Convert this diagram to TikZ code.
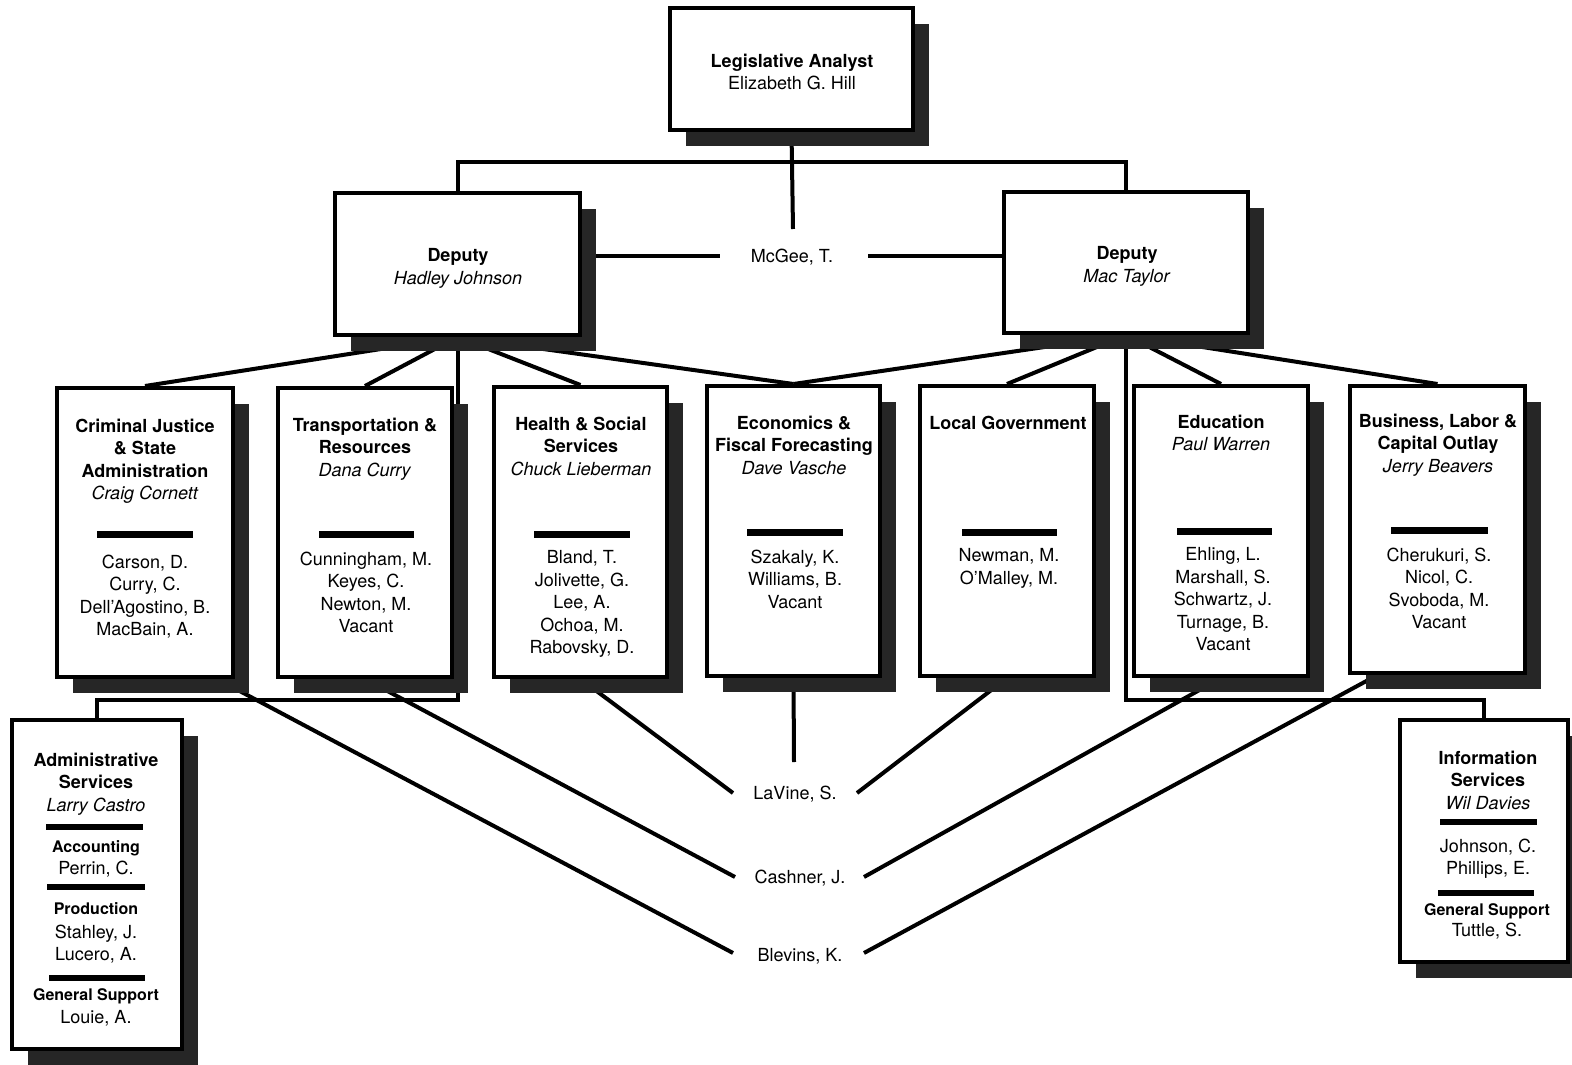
\documentclass[tikz,border=0pt]{standalone}
\usepackage{fontspec}
\setmainfont{TeX Gyre Heros}
\usetikzlibrary{shadows,backgrounds,calc}
\begin{document}
\begin{tikzpicture}[x=1pt,y=-1pt,
  box/.style={draw, line width=4pt, fill=white, inner sep=0pt,
    drop shadow={shadow xshift=16pt, shadow yshift=-16pt, fill=black!85, opacity=1}},
  txt/.style={inner sep=0pt, align=center, font=\fontsize{18}{22.5}\selectfont},
  sub/.style={inner sep=0pt, font=\fontsize{16}{20}\selectfont\bfseries},
  conn/.style={line width=4pt},
  bar/.style={fill=black}]
\useasboundingbox (0,0) rectangle (1572,1065);

% ---- boxes ----
\node[box, minimum width=243pt, minimum height=122pt] (top) at (791.5,69) {};
\node[box, minimum width=245pt, minimum height=142pt] (dep1) at (457.5,264) {};
\node[box, minimum width=244pt, minimum height=141pt] (dep2) at (1126,262.5) {};
\node[box, minimum width=176pt, minimum height=289pt] (cj) at (145,532.5) {};
\node[box, minimum width=174pt, minimum height=289pt] (trans) at (365,532.5) {};
\node[box, minimum width=173pt, minimum height=290pt] (health) at (580.5,532) {};
\node[box, minimum width=173pt, minimum height=290pt] (econ) at (793.5,531) {};
\node[box, minimum width=174pt, minimum height=290pt] (lg) at (1007,531) {};
\node[box, minimum width=174pt, minimum height=290pt] (edu) at (1221,531) {};
\node[box, minimum width=175pt, minimum height=287pt] (bus) at (1437.5,529.5) {};
\node[box, minimum width=170pt, minimum height=329pt] (admin) at (97,884.5) {};
\node[box, minimum width=168pt, minimum height=242pt] (info) at (1484,841) {};

% ---- top texts ----
\node[txt, anchor=north] (topt) at (792,53.5) {\textbf{Legislative Analyst}\\Elizabeth G. Hill};
\node[txt, anchor=north] (dep1t) at (458,248.5) {\textbf{Deputy}\\\textit{Hadley Johnson}};
\node[txt, anchor=north] (dep2t) at (1127,246.5) {\textbf{Deputy}\\\textit{Mac Taylor}};
\node[txt, anchor=base] (mcgee) at (792,262.5) {McGee, T.};

% ---- department titles ----
\node[txt, anchor=north] (cjt) at (145,418.5) {\textbf{Criminal Justice}\\\textbf{\& State}\\\textbf{Administration}\\\textit{Craig Cornett}};
\node[txt, anchor=north] (transt) at (365,417.5) {\textbf{Transportation \&}\\\textbf{Resources}\\\textit{Dana Curry}};
\node[txt, anchor=north] (healtht) at (581,416.5) {\textbf{Health \& Social}\\\textbf{Services}\\\textit{Chuck Lieberman}};
\node[txt, anchor=north] (econt) at (794,415.5) {\textbf{Economics \&}\\\textbf{Fiscal Forecasting}\\\textit{Dave Vasche}};
\node[txt, anchor=north] (lgt) at (1008,415.5) {\textbf{Local Government}};
\node[txt, anchor=north] (edut) at (1221,414.5) {\textbf{Education}\\\textit{Paul Warren}};
\node[txt, anchor=north] (bust) at (1438,413.5) {\textbf{Business, Labor \&}\\\textbf{Capital Outlay}\\\textit{Jerry Beavers}};

% ---- rules ----
\fill[bar] (97,530.5) rectangle (193,537.5);
\fill[bar] (319,530.5) rectangle (414,537.5);
\fill[bar] (534,530.5) rectangle (630,537.5);
\fill[bar] (747,528.5) rectangle (843,535.5);
\fill[bar] (962,528.5) rectangle (1057,535.5);
\fill[bar] (1177,527.5) rectangle (1272,534.5);
\fill[bar] (1391,526.5) rectangle (1488,533.5);

% ---- department staff ----
\node[txt, anchor=north] (cjn) at (145,554.5) {Carson, D.\\Curry, C.\\Dell'Agostino, B.\\MacBain, A.};
\node[txt, anchor=north] (transn) at (366,551.5) {Cunningham, M.\\Keyes, C.\\Newton, M.\\Vacant};
\node[txt, anchor=north] (healthn) at (582,550.5) {Bland, T.\\Jolivette, G.\\Lee, A.\\Ochoa, M.\\Rabovsky, D.};
\node[txt, anchor=north] (econn) at (795,549.5) {Szakaly, K.\\Williams, B.\\Vacant};
\node[txt, anchor=north] (lgn) at (1009,548.5) {Newman, M.\\O'Malley, M.};
\node[txt, anchor=north] (edun) at (1223,547.5) {Ehling, L.\\Marshall, S.\\Schwartz, J.\\Turnage, B.\\Vacant};
\node[txt, anchor=north] (busn) at (1439,547.5) {Cherukuri, S.\\Nicol, C.\\Svoboda, M.\\Vacant};

% ---- administrative services ----
\node[txt, anchor=north] (adt) at (96,752.5) {\textbf{Administrative}\\\textbf{Services}\\\textit{Larry Castro}};
\fill[bar] (46,824) rectangle (143,830);
\node[sub, anchor=base] (acc) at (96,852.8) {Accounting};
\node[txt, anchor=base] (accn) at (96,874.5) {Perrin, C.};
\fill[bar] (47,884) rectangle (145,890);
\node[sub, anchor=base] (prod) at (96,914.8) {Production};
\node[txt, anchor=north] (prodn) at (96,924.5) {Stahley, J.\\Lucero, A.};
\fill[bar] (49,975) rectangle (145,981);
\node[sub, anchor=base] (adgs) at (96,1000.8) {General Support};
\node[txt, anchor=base] (adgsn) at (96,1023.5) {Louie, A.};

% ---- information services ----
\node[txt, anchor=north] (inft) at (1488,750.5) {\textbf{Information}\\\textbf{Services}\\\textit{Wil Davies}};
\fill[bar] (1440,819) rectangle (1537,825);
\node[txt, anchor=north] (infn) at (1488,838.5) {Johnson, C.\\Phillips, E.};
\fill[bar] (1438,890) rectangle (1534,896);
\node[sub, anchor=base] (infgs) at (1487,915.8) {General Support};
\node[txt, anchor=base] (infgsn) at (1487,936.5) {Tuttle, S.};

% ---- bottom names ----
\node[txt, anchor=base] (lavine) at (795,799.5) {LaVine, S.};
\node[txt, anchor=base] (cashner) at (800,883.5) {Cashner, J.};
\node[txt, anchor=base] (blevins) at (800,961.5) {Blevins, K.};

% ---- free ends ----
\coordinate (mcu) at (793,229);
\coordinate (hj) at (793,162);
\coordinate (mcl) at (720,256);
\coordinate (mcr) at (868,256);
\coordinate (hb) at (0,700);
\coordinate (lvu) at (794,762);
\coordinate (lvl) at (733,793);
\coordinate (lvr) at (857,793);
\coordinate (csl) at (735,877);
\coordinate (csr) at (864,877);
\coordinate (bll) at (733,953);
\coordinate (blr) at (864,953);

% ---- connectors ----
\begin{pgfonlayer}{background}
\fill[white] (0,0) rectangle (1572,1065);
\draw[conn] (top.south) -- (mcu);
\draw[conn] (dep1.north) |- (hj) -| (dep2.north);
\draw[conn] (dep1.east |- mcl) -- (mcl);
\draw[conn] (mcr) -- (dep2.west |- mcr);
\draw[conn] (dep1.south) -- (cj.north);
\draw[conn] (dep1.south) -- (trans.north);
\draw[conn] (dep1.south) -- (health.north);
\draw[conn] (dep1.south) -- (econ.north);
\draw[conn] (dep2.south) -- (econ.north);
\draw[conn] (dep2.south) -- (lg.north);
\draw[conn] (dep2.south) -- (edu.north);
\draw[conn] (dep2.south) -- (bus.north);
\draw[conn] (dep1.south) -- (dep1.south |- hb) -| (admin.north);
\draw[conn] (dep2.south) -- (dep2.south |- hb) -| (info.north);
\draw[conn] (econ.south) -- (lvu);
\draw[conn] (health.south) -- (lvl);
\draw[conn] (lg.south) -- (lvr);
\draw[conn] (trans.south) -- (csl);
\draw[conn] (edu.south) -- (csr);
\draw[conn] ([xshift=72pt]cj.south) -- (bll);
\draw[conn] ([xshift=-60pt]bus.south) -- (blr);
\end{pgfonlayer}
\end{tikzpicture}
\end{document}
